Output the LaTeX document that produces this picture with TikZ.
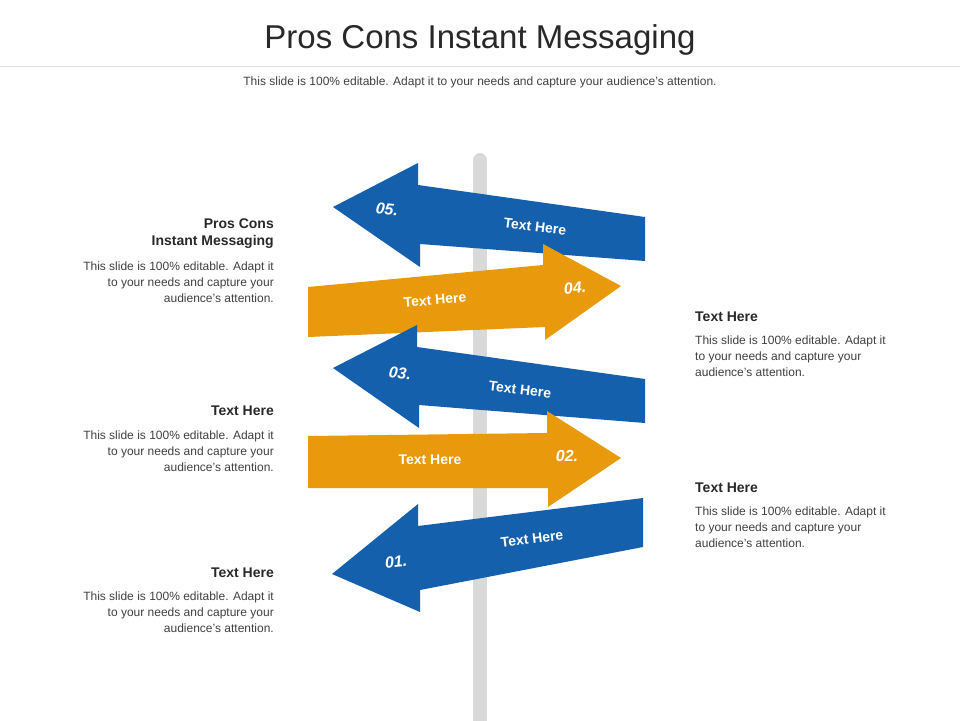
\documentclass[tikz,border=0pt]{standalone}
\usepackage{fontspec}
\setmainfont{Liberation Sans}
\definecolor{cblue}{RGB}{21,96,172}
\definecolor{corange}{RGB}{232,154,12}
\definecolor{cpole}{RGB}{217,217,217}
\definecolor{chead}{RGB}{40,40,40}
\definecolor{cbody}{RGB}{64,64,64}
\begin{document}
\begin{tikzpicture}[x=1pt,y=-1pt,
  blue/.style={fill=cblue},
  orange/.style={fill=corange},
  lab/.style={text=white,font=\fontsize{14}{16}\selectfont\bfseries},
  num/.style={text=white,font=\fontsize{16}{18}\selectfont\bfseries\itshape},
  head/.style={inner sep=0pt,text=chead,font=\fontsize{14}{17}\selectfont\bfseries},
  body/.style={inner sep=0pt,text=cbody,font=\fontsize{12}{16}\selectfont}]
\useasboundingbox (0,0) rectangle (960,720);
\node[font=\fontsize{33}{36}\selectfont,text=chead] (title) at (480,40) {Pros Cons Instant Messaging};
\draw[gray!25] (0,66) -- (960,66);
\node[body] (sub) at (480,82) {This slide is 100\% editable. Adapt it to your needs and capture your audience's attention.};
% pole
\draw[line width=14pt,cpole,line cap=round] (480,160) -- (480,730);
% arrow 05
\fill[blue] (333,207) -- (418,163) -- (418,185) -- (645,217) -- (645,261) -- (420,244) -- (420,267) -- cycle;
% arrow 04
\fill[orange] (308,287) -- (543,265) -- (543,244) -- (621,286) -- (545,340) -- (545,327) -- (308,337) -- cycle;
% arrow 03
\fill[blue] (333,368) -- (417,325) -- (417,347) -- (645,379) -- (645,423) -- (419,405) -- (419,428) -- cycle;
% arrow 02
\fill[orange] (308,436) -- (547,433) -- (547,411) -- (621,458) -- (548,507) -- (548,488) -- (308,488) -- cycle;
% arrow 01
\fill[blue] (332,574) -- (418,504) -- (418,526) -- (643,498) -- (643,547) -- (420,590) -- (420,612) -- cycle;
\node[num,rotate=-6] (n5) at (387,209) {05.};
\node[lab,rotate=-7] (t5) at (535,227) {Text Here};
\node[lab,rotate=5] (t4) at (435,300) {Text Here};
\node[num,rotate=5] (n4) at (575,288) {04.};
\node[num,rotate=-6] (n3) at (400,373) {03.};
\node[lab,rotate=-7] (t3) at (520,390) {Text Here};
\node[lab] (t2) at (430,460) {Text Here};
\node[num] (n2) at (567,456) {02.};
\node[num,rotate=6] (n1) at (396,562) {01.};
\node[lab,rotate=7] (t1) at (532,539) {Text Here};
% left texts
\node[head,anchor=east,align=right] (h1) at (274,234) {Pros Cons\\Instant Messaging};
\node[body,anchor=north east,align=right] (b1) at (274,262) {This slide is 100\% editable. Adapt it\\to your needs and capture your\\audience's attention.};
\node[head,anchor=east] (h2) at (274,411) {Text Here};
\node[body,anchor=north east,align=right] (b2) at (274,431) {This slide is 100\% editable. Adapt it\\to your needs and capture your\\audience's attention.};
\node[head,anchor=east] (h3) at (274,573) {Text Here};
\node[body,anchor=north east,align=right] (b3) at (274,592) {This slide is 100\% editable. Adapt it\\to your needs and capture your\\audience's attention.};
% right texts
\node[head,anchor=west] (h4) at (695,317) {Text Here};
\node[body,anchor=north west,align=left] (b4) at (695,336) {This slide is 100\% editable. Adapt it\\to your needs and capture your\\audience's attention.};
\node[head,anchor=west] (h5) at (695,488) {Text Here};
\node[body,anchor=north west,align=left] (b5) at (695,507) {This slide is 100\% editable. Adapt it\\to your needs and capture your\\audience's attention.};
\end{tikzpicture}
\end{document}
